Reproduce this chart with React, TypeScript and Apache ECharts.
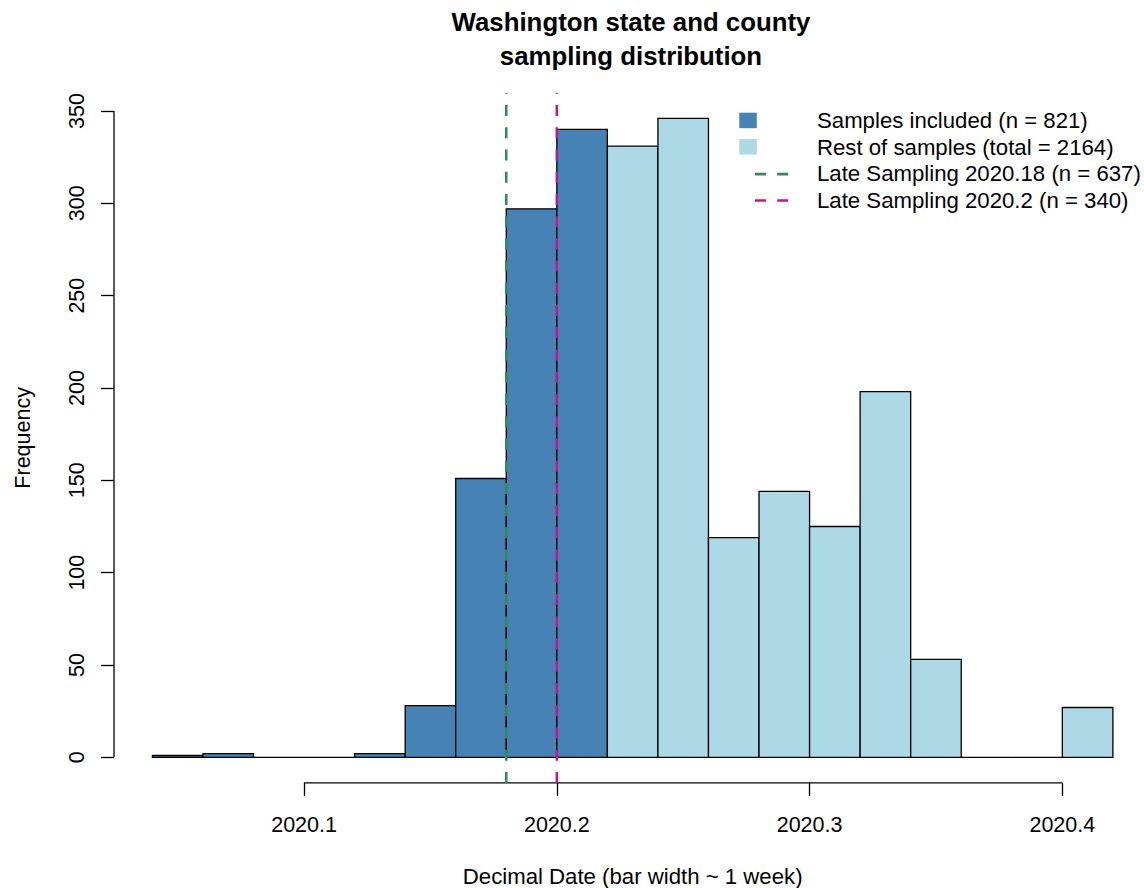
import React, { useEffect, useRef } from "react";
import * as echarts from "echarts";

// Histogram bins (decimal date, one bin ~ 1 week) and counts per bin
const binEdges = [
  2020.04, 2020.06, 2020.08, 2020.1, 2020.12, 2020.14, 2020.16, 2020.18, 2020.2, 2020.22,
  2020.24, 2020.26, 2020.28, 2020.3, 2020.32, 2020.34, 2020.36, 2020.38, 2020.4, 2020.42,
];
const counts = [1, 2, 0, 0, 2, 28, 151, 297, 340, 331, 346, 119, 144, 125, 198, 53, 0, 0, 27];
// bins that end at or before this date are the included samples
const includedUntil = 2020.22;

const xTicks = [2020.1, 2020.2, 2020.3, 2020.4];
const yTicks = [0, 50, 100, 150, 200, 250, 300, 350];

const lateSampling = [
  { date: 2020.18, label: "Late Sampling 2020.18 (n = 637)", color: "#2E8B57" },
  { date: 2020.2, label: "Late Sampling 2020.2 (n = 340)", color: "#C71585" },
];
const fillLegend = [
  { label: "Samples included (n = 821)", color: "#4682B4" },
  { label: "Rest of samples (total = 2164)", color: "#ADD8E6" },
];

const titleLines = ["Washington state and county", "sampling distribution"];
const xName = "Decimal Date (bar width ~ 1 week)";
const yName = "Frequency";

const FONT = "'Liberation Sans', Arial, Helvetica, sans-serif";
const FS = 21.5;
const FS_TEXT = 22.2;

export default function App() {
  const ref = useRef<HTMLDivElement>(null);

  useEffect(() => {
    if (!ref.current) return;
    const chart = echarts.init(ref.current, undefined, { renderer: "svg" });

    // plot region padded by 4% of the data range on each side
    const xSpan = binEdges[binEdges.length - 1] - binEdges[0];
    const xMin = binEdges[0] - 0.04 * xSpan;
    const xMax = binEdges[binEdges.length - 1] + 0.04 * xSpan;
    const maxCount = Math.max(...counts);
    const yMin = -0.04 * maxCount;
    const yMax = maxCount + 0.04 * maxCount;

    const barData = counts.map((c, i) => [
      binEdges[i],
      binEdges[i + 1],
      c,
      binEdges[i + 1] <= includedUntil + 1e-9 ? 1 : 0,
    ]);

    const dash = [11, 11.23];

    const legendTextY = [120.7, 147.1, 173.6, 200];
    const legendGraphics: any[] = [];
    fillLegend.forEach((item, i) => {
      legendGraphics.push({
        type: "rect",
        shape: { x: 739.3, y: legendTextY[i] - 8, width: 17.5, height: 15.5 },
        style: { fill: item.color },
      });
      legendGraphics.push({
        type: "text",
        style: {
          text: item.label,
          x: 817,
          y: legendTextY[i],
          textVerticalAlign: "middle",
          font: `${FS_TEXT}px ${FONT}`,
          fill: "#000",
        },
      });
    });
    lateSampling.forEach((item, j) => {
      const y = legendTextY[j + 2] + 0.5;
      legendGraphics.push({
        type: "line",
        shape: { x1: 755, y1: y, x2: 788.5, y2: y },
        style: { stroke: item.color, lineWidth: 2.7, lineDash: dash },
      });
      legendGraphics.push({
        type: "text",
        style: {
          text: item.label,
          x: 817,
          y: legendTextY[j + 2],
          textVerticalAlign: "middle",
          font: `${FS_TEXT}px ${FONT}`,
          fill: "#000",
        },
      });
    });

    const titleGraphics = titleLines.map((t, i) => ({
      type: "text",
      style: {
        text: t,
        x: 631,
        y: 22 + i * 34,
        textAlign: "center",
        textVerticalAlign: "middle",
        font: `bold ${FS * 1.2}px ${FONT}`,
        fill: "#000",
      },
    }));

    const axisLineStyle = { color: "#000", width: 1.3 };

    chart.setOption({
      animation: false,
      backgroundColor: "#fff",
      grid: {
        left: 114,
        top: 92.8,
        width: 1037.3,
        height: 690.1,
        containLabel: false,
        outerBoundsMode: "none",
      },
      xAxis: {
        type: "value",
        min: xMin,
        max: xMax,
        axisLine: { show: false, onZero: false },
        splitLine: { show: false },
        axisTick: {
          show: true,
          length: 13,
          inside: false,
          customValues: xTicks,
          lineStyle: axisLineStyle,
        },
        axisLabel: {
          customValues: xTicks,
          formatter: (v: number) => v.toFixed(1),
          margin: 31,
          fontSize: FS,
          fontFamily: FONT,
          color: "#000",
        },
        name: xName,
        nameLocation: "middle",
        nameGap: 82.5,
        nameTextStyle: { fontSize: FS_TEXT, fontFamily: FONT, color: "#000" },
      },
      yAxis: {
        type: "value",
        min: yMin,
        max: yMax,
        axisLine: { show: false, onZero: false },
        splitLine: { show: false },
        axisTick: {
          show: true,
          length: 13,
          inside: false,
          customValues: yTicks,
          lineStyle: axisLineStyle,
        },
        axisLabel: {
          customValues: yTicks,
          rotate: 90,
          margin: 26,
          fontSize: FS,
          fontFamily: FONT,
          color: "#000",
        },
        name: yName,
        nameLocation: "middle",
        nameRotate: 90,
        nameGap: 80,
        nameTextStyle: { fontSize: FS, fontFamily: FONT, color: "#000" },
      },
      graphic: [...titleGraphics, ...legendGraphics],
      series: [
        {
          type: "custom",
          name: "bins",
          data: barData,
          encode: { x: [0, 1], y: 2 },
          clip: false,
          z: 2,
          renderItem: (_params: any, api: any) => {
            const x0 = api.value(0);
            const x1 = api.value(1);
            const c = api.value(2);
            const inc = api.value(3);
            const p0 = api.coord([x0, c]);
            const p1 = api.coord([x1, 0]);
            return {
              type: "rect",
              shape: {
                x: p0[0],
                y: p0[1],
                width: p1[0] - p0[0],
                height: p1[1] - p0[1],
              },
              style: {
                fill: inc ? fillLegend[0].color : fillLegend[1].color,
                stroke: "#000",
                lineWidth: 1.3,
              },
            };
          },
        },
        // x axis line spanning the labelled ticks
        {
          type: "line",
          data: [
            [xTicks[0], yMin],
            [xTicks[xTicks.length - 1], yMin],
          ],
          symbol: "none",
          clip: false,
          silent: true,
          z: 1,
          lineStyle: axisLineStyle,
        },
        // y axis line spanning the labelled ticks
        {
          type: "line",
          data: [
            [xMin, yTicks[0]],
            [xMin, yTicks[yTicks.length - 1]],
          ],
          symbol: "none",
          clip: false,
          silent: true,
          z: 1,
          lineStyle: axisLineStyle,
        },
        // vertical cut-off lines, drawn upward from the bottom of the plot
        ...lateSampling.map((l) => ({
          type: "line",
          data: [
            [l.date, yMin],
            [l.date, yMax],
          ],
          symbol: "none",
          clip: false,
          silent: true,
          z: 5,
          lineStyle: { color: l.color, width: 2.5, type: dash },
        })),
      ],
    });

    return () => chart.dispose();
  }, []);

  return (
    <div
      ref={ref}
      style={{ position: "absolute", left: 0, top: 0, width: 1144, height: 888 }}
    />
  );
}
